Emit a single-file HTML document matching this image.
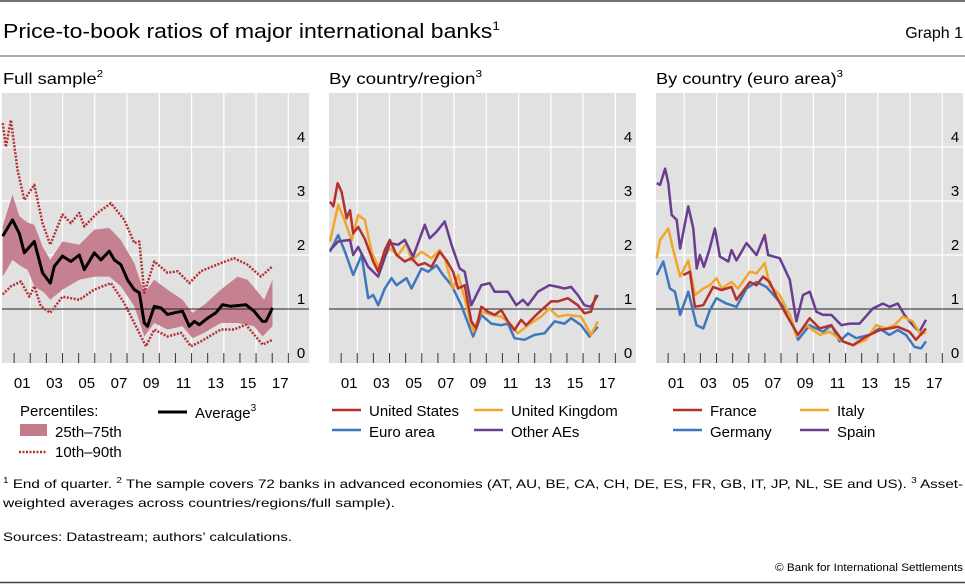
<!DOCTYPE html>
<html><head><meta charset="utf-8">
<style>
html,body{margin:0;padding:0;background:#fff;}
svg{display:block;font-family:"Liberation Sans",sans-serif;}
</style></head>
<body>
<svg id="chart" width="965" height="584" viewBox="0 0 965 584" xmlns="http://www.w3.org/2000/svg">
<line x1="0" y1="1" x2="965" y2="1" stroke="#444" stroke-width="1.5"/>
<text x="3" y="38" font-size="20" textLength="497" lengthAdjust="spacingAndGlyphs">Price-to-book ratios of major international banks<tspan font-size="12" dy="-8">1</tspan></text>
<text x="963" y="38" font-size="16" text-anchor="end">Graph 1</text>
<line x1="0" y1="56" x2="965" y2="56" stroke="#555" stroke-width="1"/>
<text x="3" y="84" font-size="16" textLength="100" lengthAdjust="spacingAndGlyphs">Full sample<tspan font-size="10" dy="-7">2</tspan></text>
<text x="329" y="84" font-size="16" textLength="153" lengthAdjust="spacingAndGlyphs">By country/region<tspan font-size="10" dy="-7">3</tspan></text>
<text x="656" y="84" font-size="16" textLength="187" lengthAdjust="spacingAndGlyphs">By country (euro area)<tspan font-size="10" dy="-7">3</tspan></text>
<g id="panels"></g>

<g>
<text x="20" y="416" font-size="15">Percentiles:</text>
<rect x="20" y="424" width="27" height="12" fill="#c47b8c"/>
<text x="55" y="437" font-size="15">25th–75th</text>
<line x1="19" y1="452" x2="46" y2="452" stroke="#b53030" stroke-width="2.5" stroke-dasharray="2 1.5"/>
<text x="55" y="457" font-size="15">10th–90th</text>
<line x1="158" y1="412" x2="187" y2="412" stroke="#000" stroke-width="3"/>
<text x="195" y="418" font-size="15">Average<tspan font-size="10" dy="-7">3</tspan></text>
</g>
<g>
<line x1="332" y1="410" x2="361" y2="410" stroke="#b5312e" stroke-width="2.5"/>
<text x="369" y="416" font-size="15">United States</text>
<line x1="474" y1="410" x2="503" y2="410" stroke="#f0a62c" stroke-width="2.5"/>
<text x="511" y="416" font-size="15">United Kingdom</text>
<line x1="332" y1="430" x2="361" y2="430" stroke="#3d78be" stroke-width="2.5"/>
<text x="369" y="437" font-size="15">Euro area</text>
<line x1="474" y1="430" x2="503" y2="430" stroke="#6a3d8f" stroke-width="2.5"/>
<text x="511" y="437" font-size="15">Other AEs</text>
</g>
<g>
<line x1="673" y1="410" x2="702" y2="410" stroke="#b5312e" stroke-width="2.5"/>
<text x="710" y="416" font-size="15">France</text>
<line x1="800" y1="410" x2="829" y2="410" stroke="#f0a62c" stroke-width="2.5"/>
<text x="837" y="416" font-size="15">Italy</text>
<line x1="673" y1="430" x2="702" y2="430" stroke="#3d78be" stroke-width="2.5"/>
<text x="710" y="437" font-size="15">Germany</text>
<line x1="800" y1="430" x2="829" y2="430" stroke="#6a3d8f" stroke-width="2.5"/>
<text x="837" y="437" font-size="15">Spain</text>
</g>

<text x="3" y="488" font-size="12" textLength="960" lengthAdjust="spacingAndGlyphs"><tspan font-size="8" dy="-5">1</tspan><tspan dy="5">  End of quarter.     </tspan><tspan font-size="8" dy="-5">2</tspan><tspan dy="5">  The sample covers 72 banks in advanced economies (AT, AU, BE, CA, CH, DE, ES, FR, GB, IT, JP, NL, SE and US).     </tspan><tspan font-size="8" dy="-5">3</tspan><tspan dy="5">  Asset-</tspan></text>
<text x="3" y="507" font-size="12" textLength="392" lengthAdjust="spacingAndGlyphs">weighted averages across countries/regions/full sample).</text>
<text x="3" y="541" font-size="12" textLength="289" lengthAdjust="spacingAndGlyphs">Sources: Datastream; authors’ calculations.</text>
<text x="963" y="571" font-size="11" text-anchor="end" textLength="188" lengthAdjust="spacingAndGlyphs">© Bank for International Settlements</text>
<line x1="0" y1="582.5" x2="965" y2="582.5" stroke="#444" stroke-width="1.5"/>
</svg>
<script>
// ---- axis data ----
const yTicks = [0, 1, 2, 3, 4];
const xLabels = ["01","03","05","07","09","11","13","15","17"];
const xLabelYears = [2001,2003,2005,2007,2009,2011,2013,2015,2017];

// ---- Panel 1: full sample ----
const avgDates = [2000.29,2000.90,2001.32,2001.63,2002.25,2002.76,2003.24,2003.49,2004.00,2004.52,2005.04,2005.35,2005.97,2006.38,2006.90,2007.21,2007.62,2008.03,2008.45,2008.76,2009.07,2009.27,2009.69,2010.10,2010.51,2010.93,2011.44,2011.86,2012.17,2012.48,2012.99,2013.51,2013.92,2014.44,2015.37,2015.88,2016.40,2016.61,2017.02];
const avgVals = [2.35,2.65,2.4,2.04,2.25,1.67,1.48,1.79,1.98,1.88,2.0,1.73,2.04,1.91,2.07,1.91,1.82,1.54,1.36,1.3,0.74,0.68,1.05,1.02,0.9,0.93,0.96,0.68,0.77,0.71,0.83,0.93,1.08,1.05,1.08,0.96,0.77,0.77,1.02];
const p75Dates = [2000.29,2000.90,2001.32,2001.83,2002.25,2002.76,2003.24,2004.00,2005.04,2005.97,2006.90,2007.62,2008.45,2009.07,2009.69,2010.51,2011.44,2012.06,2012.79,2013.82,2014.85,2015.47,2015.99,2016.50,2017.02];
const p75Vals = [2.53,3.12,2.72,2.6,2.56,2.16,1.91,2.25,2.19,2.47,2.5,2.28,1.85,1.3,1.54,1.36,1.17,0.93,1.08,1.36,1.6,1.54,1.36,1.17,1.54];
const p25Dates = [2000.29,2000.90,2001.42,2001.83,2002.25,2002.87,2003.24,2004.00,2005.04,2005.97,2006.90,2007.62,2008.45,2009.07,2009.69,2010.51,2011.44,2012.06,2012.79,2013.82,2014.85,2015.88,2016.40,2017.02];
const p25Vals = [1.6,1.91,1.79,1.73,1.42,1.3,1.17,1.36,1.54,1.6,1.6,1.42,1.05,0.49,0.74,0.62,0.68,0.46,0.56,0.74,0.74,0.68,0.49,0.68];
const p90Dates = [2000.29,2000.49,2000.80,2001.21,2001.63,2002.25,2002.76,2003.24,2004.00,2004.52,2005.04,2005.35,2006.17,2007.00,2007.83,2008.45,2008.76,2009.07,2009.69,2010.51,2011.13,2011.86,2012.58,2013.82,2014.64,2015.47,2016.30,2017.02];
const p90Vals = [4.44,4.0,4.5,3.58,3.02,3.3,2.59,2.19,2.75,2.59,2.78,2.53,2.78,2.96,2.65,2.22,2.25,1.3,1.88,1.67,1.7,1.48,1.7,1.85,1.94,1.82,1.6,1.79];
const p10Dates = [2000.29,2000.80,2001.42,2001.94,2002.25,2002.66,2003.24,2004.00,2005.04,2005.97,2007.00,2007.83,2008.45,2009.17,2009.69,2010.51,2011.34,2011.96,2012.58,2013.82,2014.64,2015.37,2016.40,2017.02];
const p10Vals = [1.27,1.42,1.51,1.23,1.42,1.05,0.93,1.23,1.17,1.36,1.48,1.11,0.74,0.31,0.62,0.49,0.56,0.31,0.4,0.62,0.62,0.71,0.34,0.43];

// ---- Panel 2: by country/region ----
const usDates = [2000.31,2000.52,2000.78,2001.03,2001.34,2001.55,2001.75,2002.06,2002.47,2002.99,2003.30,2003.71,2004.02,2004.43,2004.95,2005.36,2005.77,2006.19,2006.60,2007.11,2007.53,2007.94,2008.25,2008.66,2009.07,2009.38,2009.69,2010.10,2010.52,2010.93,2011.34,2011.75,2012.16,2012.47,2013.20,2014.02,2014.43,2015.05,2015.67,2016.08,2016.49,2016.80];
const usVals = [2.99,2.9,3.33,3.17,2.68,2.83,2.4,2.52,2.3,1.88,1.69,2.09,2.28,2.0,1.88,1.94,1.81,1.85,1.78,2.06,1.9,1.69,1.38,1.44,0.77,0.64,1.04,0.95,0.89,0.98,0.77,0.61,0.8,0.7,0.92,1.14,1.14,1.2,1.07,0.92,0.95,1.26];
const ukDates = [2000.31,2000.82,2001.24,2001.65,2002.06,2002.47,2002.89,2003.30,2004.02,2004.54,2005.05,2005.36,2005.98,2006.60,2007.11,2007.42,2007.94,2008.25,2008.66,2009.18,2009.69,2010.31,2010.93,2011.55,2011.96,2012.58,2013.40,2013.92,2014.43,2015.05,2015.88,2016.49,2016.91];
const ukVals = [2.25,2.93,2.62,2.28,2.74,2.65,2.06,1.78,2.12,2.0,2.22,1.9,2.06,1.94,2.09,1.94,1.38,1.63,1.2,0.58,0.95,0.89,0.86,0.7,0.55,0.7,0.86,1.01,0.86,0.89,0.86,0.52,0.77];
const euroDates = [2000.31,2000.82,2001.24,2001.75,2002.27,2002.68,2002.99,2003.30,2003.71,2004.12,2004.43,2005.05,2005.36,2005.98,2006.39,2006.91,2007.32,2007.84,2008.45,2009.18,2009.69,2010.31,2010.93,2011.34,2011.75,2012.37,2012.99,2013.61,2014.23,2014.85,2015.26,2015.88,2016.39,2016.91];
const euroVals = [2.06,2.37,2.06,1.63,2.0,1.2,1.26,1.07,1.38,1.57,1.44,1.57,1.38,1.75,1.69,1.81,1.63,1.44,1.07,0.49,0.89,0.73,0.7,0.73,0.46,0.43,0.52,0.55,0.77,0.73,0.83,0.7,0.49,0.67];
const otherDates = [2000.31,2000.82,2001.55,2001.75,2002.06,2002.68,2003.30,2004.02,2004.54,2004.95,2005.46,2006.19,2006.49,2006.91,2007.42,2007.84,2008.35,2008.66,2009.07,2009.69,2010.21,2010.52,2011.34,2011.86,2012.27,2012.58,2013.20,2013.92,2014.43,2014.85,2015.26,2015.67,2016.08,2016.49,2016.91];
const otherVals = [2.09,2.25,2.28,2.0,2.15,1.78,1.6,2.22,2.19,2.28,1.97,2.56,2.31,2.43,2.62,2.19,1.75,1.69,1.07,1.44,1.48,1.32,1.32,1.07,1.17,1.07,1.32,1.44,1.41,1.38,1.41,1.26,1.07,1.04,1.26];

// ---- Panel 3: euro area countries ----
const spainDates = [2000.29,2000.50,2000.81,2001.01,2001.22,2001.53,2001.74,2002.25,2002.56,2002.77,2002.97,2003.22,2003.55,2003.90,2004.21,2004.73,2004.93,2005.24,2005.86,2006.48,2006.99,2007.20,2007.92,2008.54,2008.95,2009.36,2009.78,2010.19,2010.60,2011.12,2011.74,2012.25,2012.87,2013.69,2014.31,2014.73,2015.24,2015.65,2016.17,2016.58,2016.99];
const spainVals = [3.33,3.3,3.6,3.33,2.74,2.65,2.12,2.9,2.49,1.75,2.0,1.78,2.09,2.49,1.97,1.88,2.09,1.9,2.22,2.0,2.37,2.0,1.94,1.54,0.77,1.26,1.32,0.95,0.89,0.89,0.7,0.73,0.73,1.01,1.1,1.04,1.1,0.89,0.7,0.58,0.8];
const italyDates = [2000.29,2000.50,2001.01,2001.32,2001.74,2002.25,2002.66,2003.18,2003.59,2004.00,2004.31,2004.93,2005.34,2006.07,2006.48,2006.99,2007.30,2007.92,2008.54,2008.95,2009.57,2010.40,2011.01,2011.84,2012.46,2013.28,2013.90,2014.52,2015.03,2015.55,2016.16,2016.68,2016.99];
const italyVals = [1.94,2.28,2.49,2.09,1.6,1.9,1.26,1.38,1.44,1.57,1.38,1.5,1.38,1.69,1.66,1.85,1.44,1.26,0.89,0.49,0.7,0.52,0.58,0.4,0.33,0.43,0.7,0.64,0.7,0.86,0.77,0.52,0.58];
const franceDates = [2001.94,2002.35,2002.66,2003.18,2003.79,2004.31,2004.93,2005.24,2006.07,2006.48,2006.89,2007.30,2007.71,2008.33,2009.05,2009.77,2010.39,2011.11,2011.84,2012.46,2013.28,2014.11,2014.73,2015.24,2015.96,2016.37,2016.99];
const franceVals = [1.63,1.69,1.04,1.07,1.41,1.35,1.41,1.17,1.5,1.44,1.6,1.5,1.23,0.89,0.52,0.83,0.64,0.7,0.4,0.33,0.49,0.61,0.64,0.67,0.58,0.43,0.64];
const germanyDates = [2000.29,2000.70,2001.11,2001.42,2001.74,2002.25,2002.76,2003.18,2003.59,2004.00,2004.62,2005.24,2005.86,2006.48,2007.09,2007.71,2008.54,2009.05,2009.77,2010.60,2011.12,2011.63,2012.15,2012.66,2013.48,2014.10,2014.72,2015.24,2015.75,2016.27,2016.68,2016.99];
const germanyVals = [1.63,1.88,1.38,1.32,0.89,1.32,0.7,0.64,0.98,1.2,1.1,1.04,1.38,1.5,1.41,1.2,0.89,0.43,0.7,0.58,0.7,0.4,0.55,0.46,0.52,0.64,0.52,0.61,0.52,0.3,0.27,0.4];

const NS = "http://www.w3.org/2000/svg";
const root = document.getElementById("panels");
const TOP = 93, BOTTOM = 363, W = 307, PX_YEAR = 16.13, PX_UNIT = 54;
const xOf = (left, yr) => left - 4 + (yr - 2000) * PX_YEAR;
const yOf = v => BOTTOM - v * PX_UNIT;
function mk(tag, attrs, parent) {
  const e = document.createElementNS(NS, tag);
  for (const k in attrs) e.setAttribute(k, attrs[k]);
  (parent || root).appendChild(e);
  return e;
}
function pts(left, dates, vals) {
  const n = Math.min(dates.length, vals.length);
  const out = [];
  for (let i = 0; i < n; i++) out.push(xOf(left, dates[i]).toFixed(1) + "," + yOf(vals[i]).toFixed(1));
  return out;
}
function frame(left, id) {
  const g = mk("g", {});
  
  
  const bg = mk("rect", {x: left, y: TOP, width: W, height: BOTTOM - TOP, fill: "#e1e1e1"}, g);
  
  
  for (let yr = 2002; yr <= 2018; yr += 2) {
    const gl = mk("line", {x1: xOf(left, yr), x2: xOf(left, yr), y1: TOP, y2: BOTTOM, stroke: "#fff", "stroke-width": 1.2}, g);
    
    
  }
  yTicks.forEach(v => {
    if (v > 1) {
      const gl = mk("line", {x1: left, x2: left + W, y1: yOf(v), y2: yOf(v), stroke: "#fff", "stroke-width": 1.2}, g);
      
      
    }
    const t = mk("text", {x: left + W - 8, y: yOf(v) - 5, "font-size": 15, "text-anchor": "middle"}, g);
    t.textContent = v;
    
    
  });
  for (let yr = 2001; yr <= 2018; yr++) {
    const tk = mk("line", {x1: xOf(left, yr), x2: xOf(left, yr), y1: BOTTOM - 10, y2: BOTTOM, stroke: "#333", "stroke-width": 1}, g);
    
    
  }
  xLabels.forEach((lab, i) => {
    const t = mk("text", {x: xOf(left, xLabelYears[i] + 0.5), y: 388, "font-size": 15, "text-anchor": "middle"}, g);
    t.textContent = lab;
    
    
  });
  return g;
}
function refLine(left, g) {
  const l = mk("line", {x1: left, x2: left + W, y1: yOf(1), y2: yOf(1), stroke: "#222", "stroke-width": 1}, g);
  
  
}
function series(left, dates, vals, color, width, name, g, dash) {
  const a = {points: pts(left, dates, vals).join(" "), fill: "none", stroke: color, "stroke-width": width, "stroke-linejoin": "round"};
  if (dash) a["stroke-dasharray"] = dash;
  const p = mk("polyline", a, g);
  
  
}
const RED = "#b5312e", YEL = "#f0a62c", BLU = "#3d78be", PUR = "#6a3d8f";

// Panel 1
const L1 = 2, g1 = frame(L1, "panel1");
refLine(L1, g1);
const band = mk("polygon", {points: pts(L1, p75Dates, p75Vals).concat(pts(L1, p25Dates, p25Vals).reverse()).join(" "), fill: "#c47b8c", "fill-opacity": 0.95}, g1);


refLine(L1, g1);
series(L1, p90Dates, p90Vals, "#b53030", 2.5, "line-90th", g1, "2 1.5");
series(L1, p10Dates, p10Vals, "#b53030", 2.5, "line-10th", g1, "2 1.5");
series(L1, avgDates, avgVals, "#000", 3, "line-average", g1);

// Panel 2
const L2 = 329, g2 = frame(L2, "panel2");
refLine(L2, g2);
series(L2, euroDates, euroVals, BLU, 2.5, "line-euro-area", g2);
series(L2, ukDates, ukVals, YEL, 2.5, "line-united-kingdom", g2);
series(L2, otherDates, otherVals, PUR, 2.5, "line-other-aes", g2);
series(L2, usDates, usVals, RED, 2.5, "line-united-states", g2);

// Panel 3
const L3 = 656, g3 = frame(L3, "panel3");
refLine(L3, g3);
series(L3, spainDates, spainVals, PUR, 2.5, "line-spain", g3);
series(L3, germanyDates, germanyVals, BLU, 2.5, "line-germany", g3);
series(L3, italyDates, italyVals, YEL, 2.5, "line-italy", g3);
series(L3, franceDates, franceVals, RED, 2.5, "line-france", g3);
</script>
</body></html>
